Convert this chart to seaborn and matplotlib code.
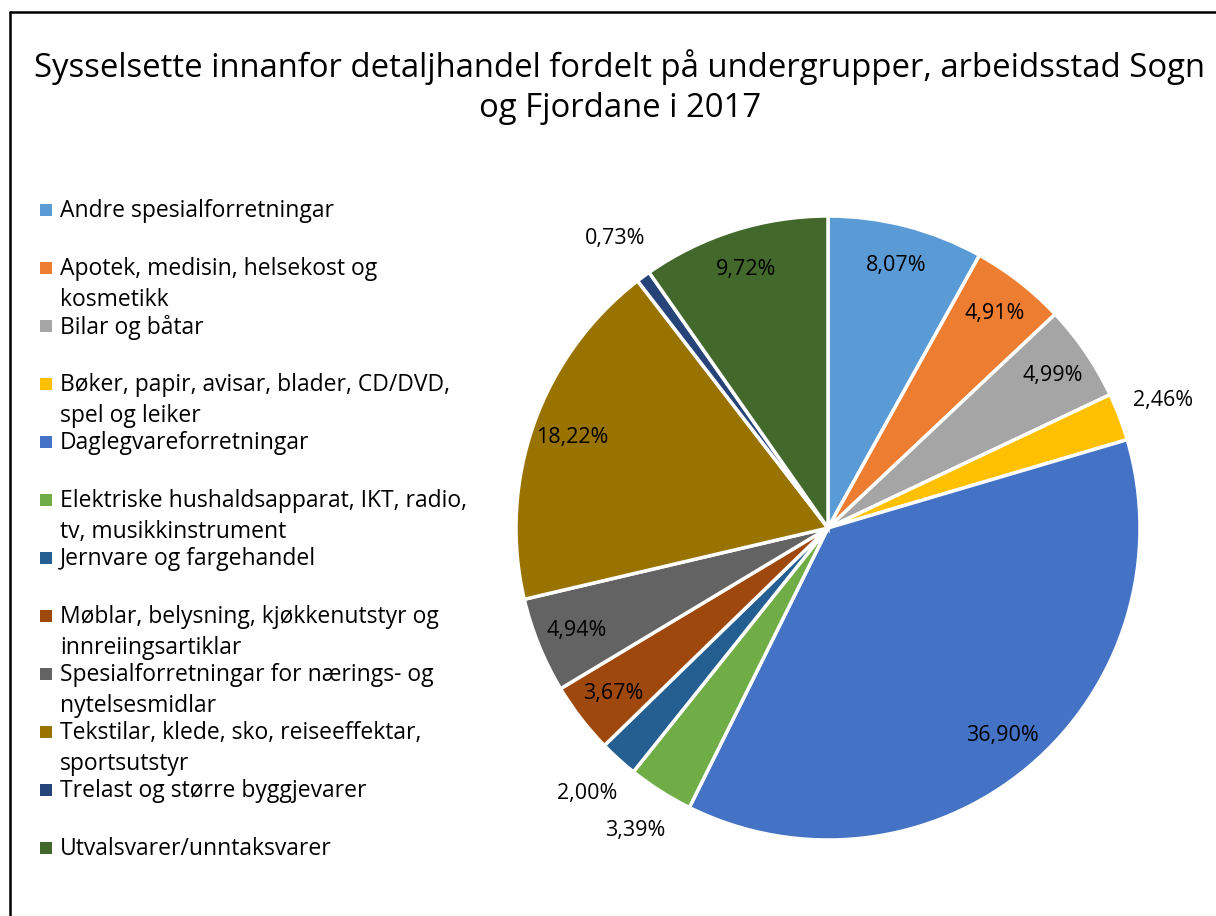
import numpy as np
import matplotlib
matplotlib.use("Agg")
import matplotlib.pyplot as plt
import seaborn as sns
from matplotlib.patches import Rectangle
from matplotlib.lines import Line2D

# %% Data
categories = [
    "Andre spesialforretningar",
    "Apotek, medisin, helsekost og\nkosmetikk",
    "Bilar og båtar",
    "Bøker, papir, avisar, blader, CD/DVD,\nspel og leiker",
    "Daglegvareforretningar",
    "Elektriske hushaldsapparat, IKT, radio,\ntv, musikkinstrument",
    "Jernvare og fargehandel",
    "Møblar, belysning, kjøkkenutstyr og\ninnreiingsartiklar",
    "Spesialforretningar for nærings- og\nnytelsesmidlar",
    "Tekstilar, klede, sko, reiseeffektar,\nsportsutstyr",
    "Trelast og større byggjevarer",
    "Utvalsvarer/unntaksvarer",
]
shares = [8.07, 4.91, 4.99, 2.46, 36.90, 3.39, 2.00, 3.67, 4.94, 18.22, 0.73, 9.72]
colors = ["#5B9BD5", "#ED7D31", "#A5A5A5", "#FFC000", "#4472C4", "#70AD47",
          "#255E91", "#9E480E", "#636363", "#997300", "#264478", "#43682B"]
title = "Sysselsette innanfor detaljhandel fordelt på undergrupper, arbeidsstad Sogn\nog Fjordane i 2017"

# %% Style
sns.set_theme(style="white")
plt.rcParams["font.family"] = ["Open Sans", "DejaVu Sans"]

W, H = 1216, 916
fig = plt.figure(figsize=(W / 100, H / 100), dpi=100)
fig.patch.set_facecolor("white")

# outer chart border (only left and top visible in the crop)
fig.add_artist(Line2D([10 / W, 10 / W], [0, 1 - 12 / H], color="black", lw=1.8,
                      transform=fig.transFigure))
fig.add_artist(Line2D([10 / W, 1], [1 - 12 / H, 1 - 12 / H], color="black", lw=1.8,
                      transform=fig.transFigure))

# title
fig.text(620 / W, 1 - 87 / H, title, ha="center", va="center", fontsize=23.7,
         color="black", linespacing=1.3)

# %% Pie
cx, cy, r = 828, 528, 312
ax = fig.add_axes([(cx - r) / W, 1 - (cy + r) / H, 2 * r / W, 2 * r / H])
wedges, _ = ax.pie(shares, colors=colors, startangle=90, counterclock=False,
                   wedgeprops=dict(edgecolor="white", linewidth=2.5))
ax.set_xlim(-1, 1)
ax.set_ylim(-1, 1)
ax.set_aspect("equal")
ax.axis("off")

for w, v in zip(wedges, shares):
    ang = np.deg2rad((w.theta1 + w.theta2) / 2)
    dist = 0.87 if v > 3.5 else 1.15
    ax.text(dist * np.cos(ang), dist * np.sin(ang), f"{v:.2f}%".replace(".", ","),
            ha="center", va="center", fontsize=15.5, color="black")

# %% Legend (manual, Excel-like fixed slots)
for i, (lab, col) in enumerate(zip(categories, colors)):
    y = 210 + 58 * i
    fig.add_artist(Rectangle((40 / W, 1 - (y + 6) / H), 12 / W, 12 / H,
                             facecolor=col, edgecolor="none", transform=fig.transFigure))
    fig.text(60 / W, 1 - (y - 11) / H, lab, ha="left", va="top", fontsize=16.5,
             color="black", linespacing=1.38)

fig.savefig("out.png", dpi=100, facecolor="white")
